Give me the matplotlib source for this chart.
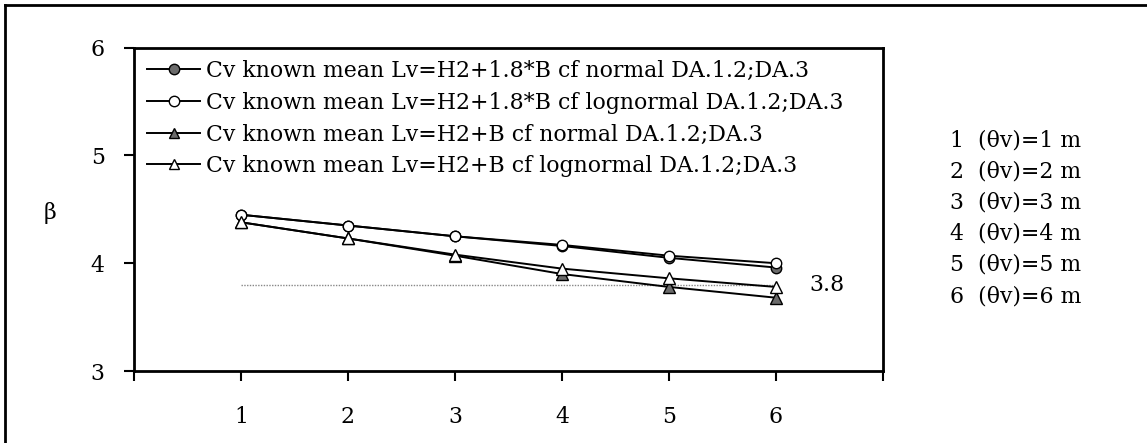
import matplotlib
matplotlib.use("Agg")
import matplotlib.pyplot as plt
from matplotlib.lines import Line2D

x = [1, 2, 3, 4, 5, 6]
s_circ_normal = [4.45, 4.35, 4.25, 4.16, 4.05, 3.96]
s_circ_lognormal = [4.45, 4.35, 4.25, 4.17, 4.07, 4.00]
s_tri_normal = [4.38, 4.23, 4.07, 3.90, 3.78, 3.68]
s_tri_lognormal = [4.38, 4.23, 4.08, 3.95, 3.86, 3.78]
labels = [
    "Cv known mean Lv=H2+1.8*B cf normal DA.1.2;DA.3",
    "Cv known mean Lv=H2+1.8*B cf lognormal DA.1.2;DA.3",
    "Cv known mean Lv=H2+B cf normal DA.1.2;DA.3",
    "Cv known mean Lv=H2+B cf lognormal DA.1.2;DA.3",
]
threshold = 3.8
side_notes = ["1  (θv)=1 m", "2  (θv)=2 m", "3  (θv)=3 m",
              "4  (θv)=4 m", "5  (θv)=5 m", "6  (θv)=6 m"]
xtick_labels = ["", "1", "2", "3", "4", "5", "6", ""]

FONT = "DejaVu Serif"
FS = 15.8
plt.rcParams['font.family'] = FONT

fig = plt.figure(figsize=(11.47, 4.43), dpi=100)
ax = fig.add_axes([134/1147, 1-371/443, (883-134)/1147, (371-47.7)/443])

gray = "#6b6b6b"
MS = 7.5
ax.plot(x, s_circ_normal, color="black", lw=1.4, marker="o", ms=MS,
        mfc=gray, mec="black", mew=1.0, label=labels[0], zorder=3)
ax.plot(x, s_circ_lognormal, color="black", lw=1.4, marker="o", ms=MS,
        mfc="white", mec="black", mew=1.0, label=labels[1], zorder=4)
ax.plot(x, s_tri_normal, color="black", lw=1.4, marker="^", ms=MS + 0.5,
        mfc=gray, mec="black", mew=1.0, label=labels[2], zorder=3)
ax.plot(x, s_tri_lognormal, color="black", lw=1.4, marker="^", ms=MS + 0.5,
        mfc="white", mec="black", mew=1.0, label=labels[3], zorder=4)

ax.plot([x[0], x[-1]], [threshold, threshold], color="#888888", lw=1.0,
        ls=(0, (1, 1)), zorder=2)
ax.text(6.31, threshold, "3.8", fontsize=FS, va="center", ha="left")

ax.set_xlim(0, 7)
ax.set_ylim(3, 6)
ax.set_xticks(range(8))
ax.set_xticklabels(xtick_labels, fontsize=FS)
ax.set_yticks([3, 4, 5, 6])
ax.set_yticklabels(["3", "4", "5", "6"], fontsize=FS)
ax.tick_params(axis="both", direction="out", length=7, width=1.5)
ax.tick_params(axis="x", pad=18)
ax.tick_params(axis="y", pad=14)
for sp in ax.spines.values():
    sp.set_linewidth(2)

fig.text(50/1147, 1-213/443, "β", fontsize=FS, ha="center", va="center")

leg = ax.legend(loc="upper left", bbox_to_anchor=(0.012, 0.975), frameon=False,
                fontsize=FS, handlelength=2.4, handletextpad=0.25,
                labelspacing=0.44, borderaxespad=0, borderpad=0.2)
for h in leg.legend_handles:
    h.set_markersize(7.5)

for i, t in enumerate(side_notes):
    fig.text(950/1147, 1-(140+31.2*i)/443, t, fontsize=FS, ha="left", va="center")

# outer frame (left and top edges)
fig.add_artist(Line2D([5/1147, 5/1147], [0, 1-5/443], transform=fig.transFigure,
                      color="black", lw=2))
fig.add_artist(Line2D([5/1147, 1], [1-5/443, 1-5/443], transform=fig.transFigure,
                      color="black", lw=2))

fig.savefig("out.png", dpi=100)
